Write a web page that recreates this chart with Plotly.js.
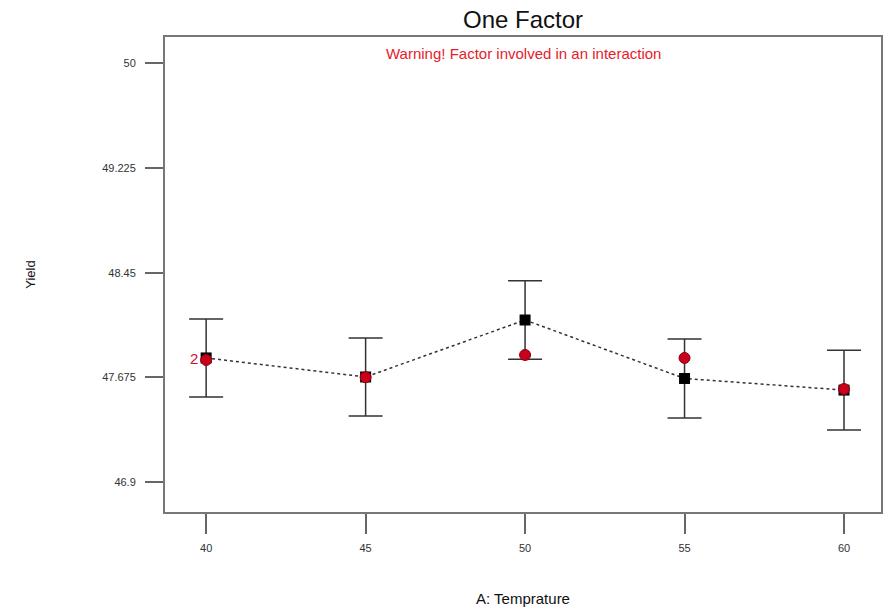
<!DOCTYPE html>
<html>
<head>
<meta charset="utf-8">
<script src="https://cdn.plot.ly/plotly-3.0.1.min.js"></script>
<style>html,body{margin:0;padding:0;background:#fff;}#chart{width:884px;height:616px;}</style>
</head>
<body>
<div id="chart"></div>
<script>
// Factor levels (A: Temprature)
const temperature = [40, 45, 50, 55, 60];
// Predicted mean Yield (black squares, dotted line)
const predicted = [47.819, 47.678, 48.100, 47.667, 47.581];
// Half-width of the error bars (LSD bars)
const errHalf = [0.289, 0.289, 0.290, 0.292, 0.295];
// Actual design points (red circles)
const actualX = [40, 45, 50, 55, 60];
const actualY = [47.804, 47.676, 47.841, 47.819, 47.589];
const actualCount = ["2", "", "", "", ""];
// Y tick values/labels
const yTicks = [46.9, 47.675, 48.45, 49.225, 50];
const yTickText = ["46.9", "47.675", "48.45", "49.225", "50"];
const xTicks = [40, 45, 50, 55, 60];

const font = "Liberation Sans, Arial, sans-serif";

const traces = [
  {
    x: temperature, y: predicted, type: "scatter", mode: "lines+markers",
    line: {color: "#333", width: 1.5, dash: "dot"},
    marker: {symbol: "square", size: 11, color: "#000"},
    error_y: {type: "data", array: errHalf, visible: true, color: "#333", thickness: 1.5, width: 17},
    showlegend: false, hoverinfo: "x+y"
  },
  {
    x: actualX, y: actualY, type: "scatter", mode: "markers+text",
    text: actualCount, textposition: "middle left",
    textfont: {family: font, size: 15, color: "#d0102a"},
    marker: {symbol: "circle", size: 11, color: "#c8001a", line: {color: "#8a0010", width: 1}},
    showlegend: false, hoverinfo: "x+y"
  }
];

const layout = {
  width: 884, height: 616,
  paper_bgcolor: "#fff", plot_bgcolor: "#fff",
  margin: {l: 165, r: 3, t: 37, b: 104},
  font: {family: font, color: "#333"},
  title: {text: "One Factor", font: {family: font, size: 24, color: "#111"}, x: 0.5, xref: "paper", y: 0.968, yanchor: "middle"},
  xaxis: {
    range: [38.71, 61.16], tickvals: xTicks, ticktext: xTicks.map(String),
    ticks: "outside", ticklen: 20, tickcolor: "#666", tickwidth: 1.5, ticklabelstandoff: 5,
    showline: true, mirror: true, linecolor: "#777", linewidth: 2,
    showgrid: false, zeroline: false,
    tickfont: {family: font, size: 11, color: "#333"},
    title: {text: "A: Temprature", font: {family: font, size: 15, color: "#111"}, standoff: 40}
  },
  yaxis: {
    range: [46.678, 50.196], tickvals: yTicks, ticktext: yTickText,
    ticks: "outside", ticklen: 18, tickcolor: "#666", tickwidth: 1.5, ticklabelstandoff: 7,
    showline: true, mirror: true, linecolor: "#777", linewidth: 2,
    showgrid: false, zeroline: false,
    tickfont: {family: font, size: 11, color: "#333"},
    title: {text: "Yield", font: {family: font, size: 13, color: "#111"}, standoff: 64}
  },
  annotations: [
    {text: "Warning! Factor involved in an interaction", xref: "paper", yref: "paper", x: 0.5, y: 0.965,
     xanchor: "center", yanchor: "middle", showarrow: false,
     font: {family: font, size: 15, color: "#e8202a"}}
  ]
};

Plotly.newPlot("chart", traces, layout, {displayModeBar: false, responsive: false});
</script>
</body>
</html>
